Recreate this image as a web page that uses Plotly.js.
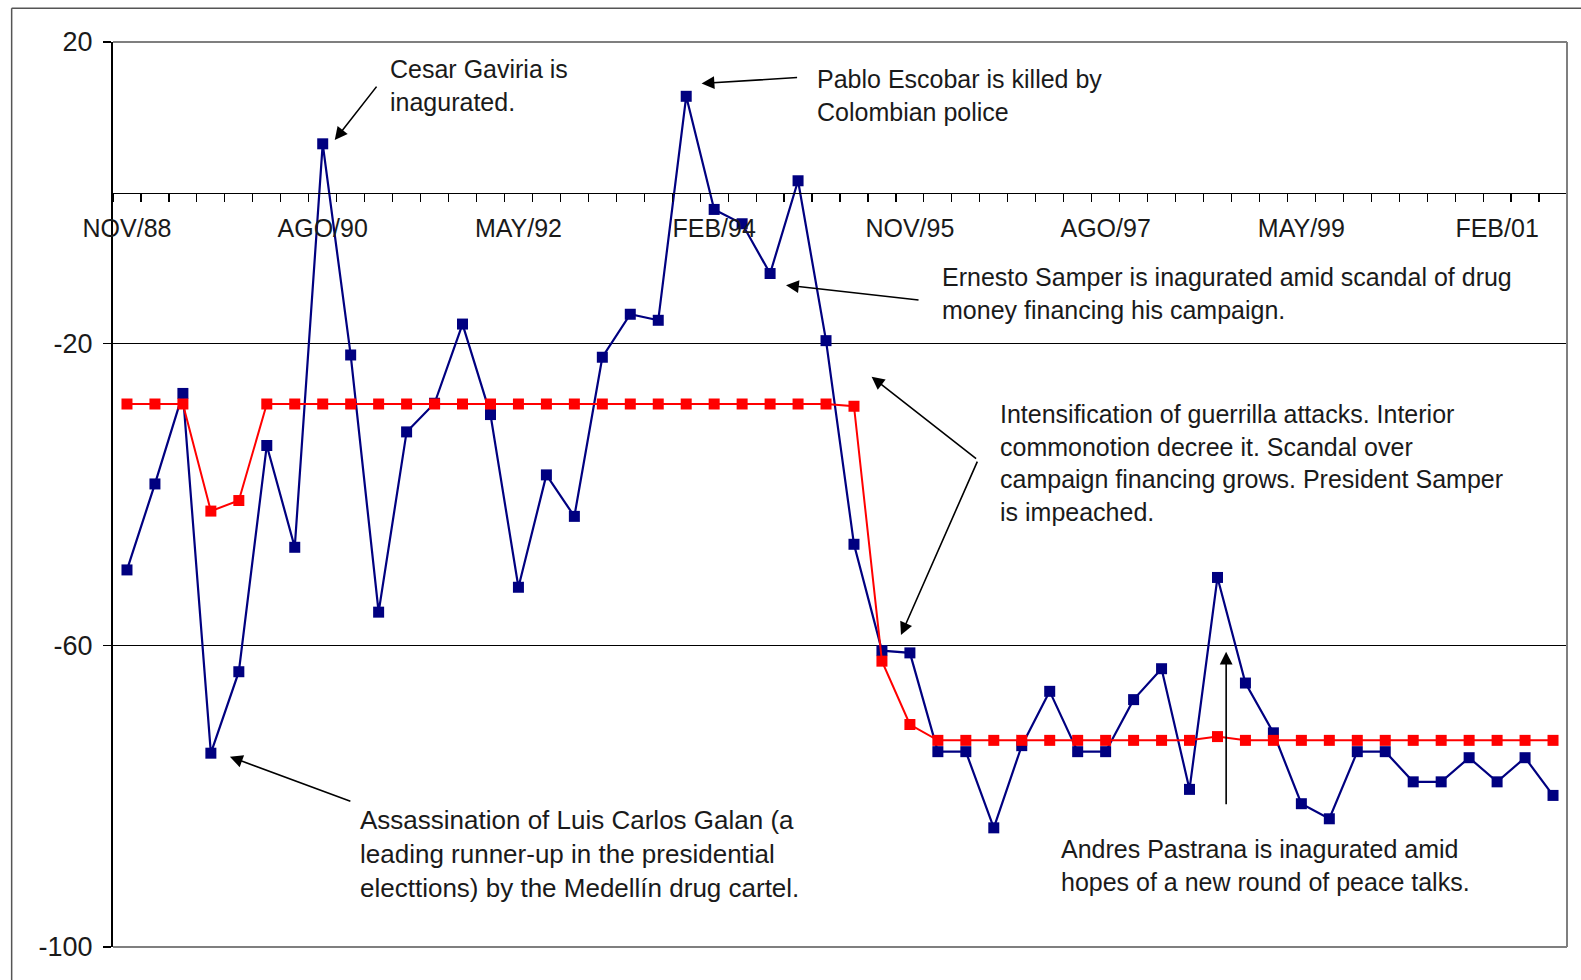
<!DOCTYPE html>
<html>
<head>
<meta charset="utf-8">
<script src="https://cdn.plot.ly/plotly-3.0.1.min.js"></script>
<style>
  html, body { margin: 0; padding: 0; background: #ffffff; }
  #chart { width: 1581px; height: 980px; }
</style>
</head>
<body>
<div id="chart"></div>
<script>
// Quarterly categories, NOV/88 .. AGO/01
const categories = [
  "NOV/88","FEB/89","MAY/89","AGO/89","NOV/89","FEB/90","MAY/90","AGO/90",
  "NOV/90","FEB/91","MAY/91","AGO/91","NOV/91","FEB/92","MAY/92","AGO/92",
  "NOV/92","FEB/93","MAY/93","AGO/93","NOV/93","FEB/94","MAY/94","AGO/94",
  "NOV/94","FEB/95","MAY/95","AGO/95","NOV/95","FEB/96","MAY/96","AGO/96",
  "NOV/96","FEB/97","MAY/97","AGO/97","NOV/97","FEB/98","MAY/98","AGO/98",
  "NOV/98","FEB/99","MAY/99","AGO/99","NOV/99","FEB/00","MAY/00","AGO/00",
  "NOV/00","FEB/01","MAY/01","AGO/01"
];

// Blue series (navy line with squares)
const blueValues = [
  -50.0, -38.6, -26.6, -74.3, -63.5, -33.5, -47.0, 6.5,
  -21.5, -55.6, -31.7, -27.9, -17.4, -29.4, -52.3, -37.4,
  -42.9, -21.8, -16.1, -16.9, 12.8, -2.2, -4.1, -10.7,
  1.6, -19.6, -46.6, -60.7, -61.0, -74.1, -74.1, -84.2,
  -73.3, -66.1, -74.1, -74.1, -67.2, -63.1, -79.1, -51.0,
  -65.0, -71.6, -81.0, -83.0, -74.1, -74.1, -78.1, -78.1,
  -74.9, -78.1, -74.9, -79.9
];

// Red series (red line with squares)
const redValues = [
  -28.0, -28.0, -28.0, -42.2, -40.8, -28.0, -28.0, -28.0,
  -28.0, -28.0, -28.0, -28.0, -28.0, -28.0, -28.0, -28.0,
  -28.0, -28.0, -28.0, -28.0, -28.0, -28.0, -28.0, -28.0,
  -28.0, -28.0, -28.3, -62.1, -70.5, -72.6, -72.6, -72.6,
  -72.6, -72.6, -72.6, -72.6, -72.6, -72.6, -72.6, -72.1,
  -72.6, -72.6, -72.6, -72.6, -72.6, -72.6, -72.6, -72.6,
  -72.6, -72.6, -72.6, -72.6
];

const xTickLabels = ["NOV/88","AGO/90","MAY/92","FEB/94","NOV/95","AGO/97","MAY/99","FEB/01"];
const yTickValues = [20, -20, -60, -100];
const yTickLabels = ["20", "-20", "-60", "-100"];

const xIdx = categories.map((c, i) => i);
const xTickPos = xTickLabels.map(l => categories.indexOf(l));

const yMin = -100, yMax = 20;
const FONT = "Liberation Sans, Arial, sans-serif";
const TXT = "#1a1a1a";

const traces = [
  {
    x: xIdx, y: blueValues, type: "scatter", mode: "lines+markers",
    line: { color: "#000080", width: 2.2 },
    marker: { symbol: "square", size: 11, color: "#000080" },
    hoverinfo: "skip"
  },
  {
    x: xIdx, y: redValues, type: "scatter", mode: "lines+markers",
    line: { color: "#ff0000", width: 2 },
    marker: { symbol: "square", size: 11, color: "#ff0000" },
    hoverinfo: "skip"
  }
];

function txt(text, x, y, size) {
  return { text: text, x: x, y: y, xref: "x", yref: "y", xanchor: "left", yanchor: "middle",
           align: "left", showarrow: false, font: { family: FONT, size: size || 25, color: TXT } };
}
function arrow(x, y, ax, ay) {
  return { text: "", x: x, y: y, xref: "x", yref: "y", ax: ax, ay: ay, showarrow: true,
           arrowhead: 2, arrowsize: 1.6, arrowwidth: 1.6, arrowcolor: "#000", standoff: 0 };
}

const annotations = [
  txt("Cesar Gaviria is<br>inagurated.", 9.35, 14.19),
  arrow(7.43, 6.99, 43, -55),
  txt("Pablo Escobar is killed by<br>Colombian police", 24.6, 12.9),
  arrow(20.55, 14.5, 97, -6),
  txt("Ernesto Samper is inagurated amid scandal of drug<br>money financing his campaign.", 29.07, -13.36),
  arrow(23.57, -12.24, 134, 15),
  txt("Intensification of guerrilla attacks. Interior<br>commonotion decree it. Scandal over<br>campaign financing grows. President Samper<br>is impeached.", 31.15, -35.77),
  arrow(26.63, -24.39, 106, 83),
  arrow(27.68, -58.64, 77, -175),
  txt("Assassination of Luis Carlos Galan (a<br>leading runner-up in the presidential<br>electtions) by the Medellín drug cartel.", 8.25, -87.67, 26),
  arrow(3.68, -74.77, 122, 45),
  txt("Andres Pastrana is inagurated amid<br>hopes of a new round of peace talks.", 33.32, -89.13),
  arrow(39.31, -60.85, 0, 154)
];

const frame = { color: "#7f7f7f", width: 2 };
const shapes = [
  { type: "line", xref: "paper", yref: "paper", x0: 0, x1: 1, y0: 1, y1: 1, line: frame, layer: "above" },
  { type: "line", xref: "paper", yref: "paper", x0: 1, x1: 1, y0: 0, y1: 1, line: frame, layer: "above" },
  { type: "line", xref: "paper", yref: "paper", x0: 0, x1: 1, y0: 0, y1: 0, line: frame, layer: "above" },
  // outer chart border (left and top)
  { type: "line", xref: "paper", yref: "paper", x0: -0.0697, x1: -0.0697, y0: -0.04, y1: 1.0373, line: { color: "#555", width: 1.5 } },
  { type: "line", xref: "paper", yref: "paper", x0: -0.0697, x1: 1.01, y0: 1.0373, y1: 1.0373, line: { color: "#555", width: 1.5 } }
];

const layout = {
  width: 1581, height: 980, autosize: false,
  margin: { l: 113, r: 14, t: 42, b: 33, pad: 0 },
  paper_bgcolor: "#ffffff", plot_bgcolor: "#ffffff",
  showlegend: false,
  font: { family: FONT, color: TXT },
  xaxis: {
    type: "linear", range: [-0.5, categories.length - 0.5],
    anchor: "free", position: (0 - yMin) / (yMax - yMin),
    showline: true, linecolor: "#000", linewidth: 1.5,
    showgrid: false, zeroline: false,
    tickmode: "array", tickvals: xTickPos, ticktext: xTickLabels,
    ticks: "", ticklabelstandoff: 13,
    tickfont: { family: FONT, size: 25, color: TXT },
    minor: { ticks: "outside", ticklen: 8, tickwidth: 1.2, tickcolor: "#000", tick0: -0.5, dtick: 1, showgrid: false },
    fixedrange: true
  },
  yaxis: {
    range: [yMin, yMax],
    tickmode: "array", tickvals: yTickValues, ticktext: yTickLabels,
    ticks: "outside", ticklen: 8, tickwidth: 1.2, tickcolor: "#000",
    ticklabelstandoff: 5,
    showline: true, linecolor: "#000", linewidth: 2,
    showgrid: true, gridcolor: "#000", gridwidth: 1,
    zeroline: false,
    tickfont: { family: FONT, size: 27, color: TXT },
    fixedrange: true
  },
  annotations: annotations,
  shapes: shapes
};

Plotly.newPlot("chart", traces, layout, { displayModeBar: false, staticPlot: true });
</script>
</body>
</html>
